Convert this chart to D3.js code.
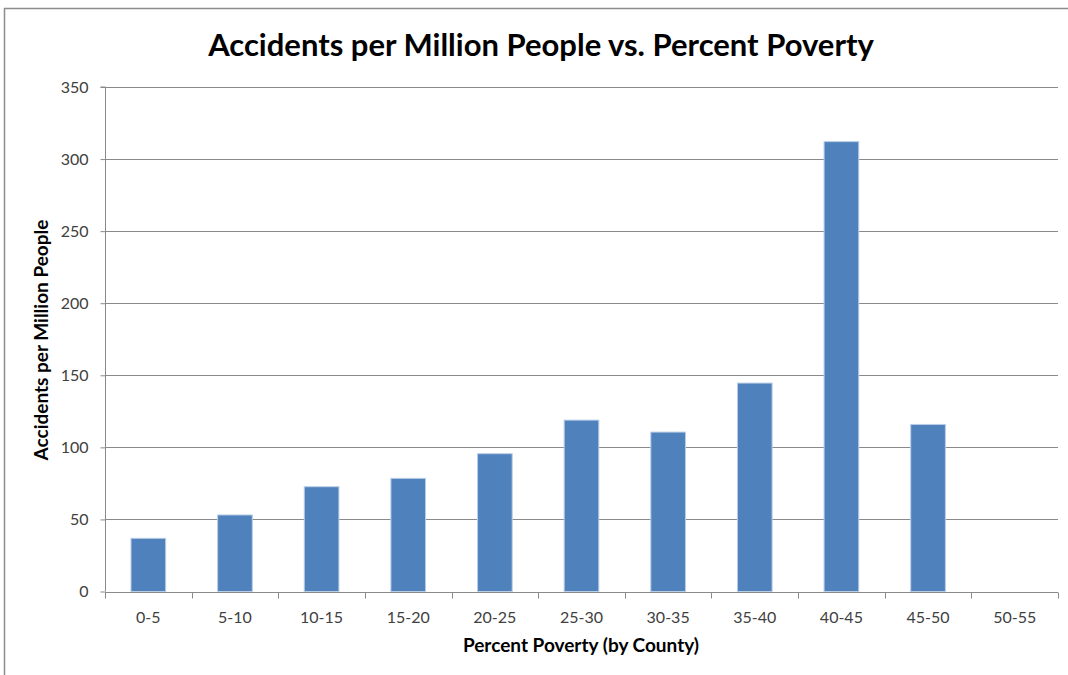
<!DOCTYPE html>
<html><head><meta charset="utf-8">
<script src="https://cdn.jsdelivr.net/npm/d3@7"></script>
<style>body{margin:0;background:#fff}svg{display:block}text{font-family:Lato,"Open Sans",sans-serif}</style>
</head><body><svg id="c" width="1068" height="675"></svg>
<script>
const categories = ["0-5","5-10","10-15","15-20","20-25","25-30","30-35","35-40","40-45","45-50","50-55"];
const values = [36.9, 53.1, 72.7, 78.5, 95.6, 118.9, 110.6, 144.6, 312.1, 115.9, 0];
const yTicks = [0,50,100,150,200,250,300,350];
const title = "Accidents per Million People vs. Percent Poverty";
const xTitle = "Percent Poverty (by County)";
const yTitle = "Accidents per Million People";

const svg = d3.select("#c");
const L = 105, R = 1058, T = 87, B = 591.5;
svg.append("rect").attr("x",4.5).attr("y",8.5).attr("width",1080).attr("height",700)
  .attr("fill","#fff").attr("stroke","#8c8c8c").attr("stroke-width",1.5);

const x = d3.scaleBand().domain(categories).range([L,R]).paddingInner(0.6).paddingOuter(0.3);
const y = d3.scaleLinear().domain([0,350]).range([B,T]);

// gridlines
svg.append("g").selectAll("line").data(yTicks.filter(d=>d>0)).join("line")
  .attr("x1",L).attr("x2",R).attr("y1",d=>Math.round(y(d))+0.5).attr("y2",d=>Math.round(y(d))+0.5)
  .attr("stroke","#8a8a8a").attr("stroke-width",1);

// bars
svg.append("g").selectAll("rect").data(categories).join("rect")
  .attr("x",d=>x(d)).attr("width",x.bandwidth())
  .attr("y",(d,i)=>y(values[i])).attr("height",(d,i)=>B-y(values[i]))
  .attr("fill","#4F81BD").attr("stroke",(d,i)=>values[i]>0?"#b9cde5":"none").attr("stroke-width",1);

// y axis
const ya = svg.append("g").attr("transform",`translate(${L+0.5},0)`)
  .call(d3.axisLeft(y).tickValues(yTicks).tickSize(5).tickPadding(12).tickFormat(d3.format("d")));
ya.select(".domain").attr("stroke","#8a8a8a").attr("d",`M-5,${y(350)}H0V${B}`);
ya.selectAll(".tick line").attr("stroke","#8a8a8a");
ya.selectAll(".tick text").attr("fill","#404040").style("font-size","16px").style("font-family","Lato,sans-serif");

// x axis
const step = x.step();
const xa = svg.append("g").attr("transform",`translate(0,${Math.round(B)+0.5})`);
xa.append("line").attr("x1",L).attr("x2",R).attr("stroke","#8a8a8a");
xa.selectAll("line.t").data(d3.range(categories.length+1)).join("line").attr("class","t")
  .attr("x1",i=>Math.round(L+i*step)+0.5).attr("x2",i=>Math.round(L+i*step)+0.5).attr("y1",0).attr("y2",6)
  .attr("stroke","#8a8a8a");
xa.selectAll("text").data(categories).join("text")
  .attr("x",d=>x(d)+x.bandwidth()/2).attr("y",30).attr("text-anchor","middle")
  .attr("fill","#404040").style("font-size","16px").text(d=>d);

// titles
svg.append("text").attr("x",541).attr("y",56).attr("text-anchor","middle")
  .style("font-size","31px").style("font-weight","bold").attr("fill","#000").text(title);
svg.append("text").attr("x",581).attr("y",652).attr("text-anchor","middle")
  .style("font-size","19px").style("font-weight","bold").attr("fill","#000").text(xTitle);
svg.append("text").attr("transform","translate(48,340) rotate(-90)").attr("text-anchor","middle")
  .style("font-size","19px").style("font-weight","bold").attr("fill","#000").text(yTitle);
</script></body></html>
